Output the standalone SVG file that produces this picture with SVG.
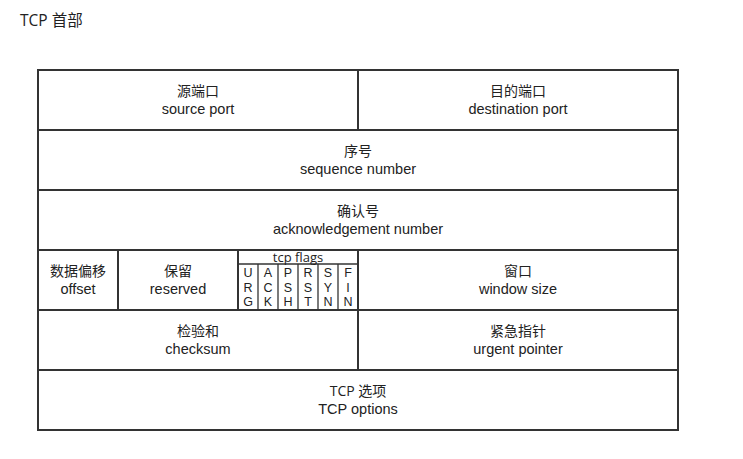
<svg xmlns="http://www.w3.org/2000/svg" width="743" height="459" viewBox="0 0 743 459">
<style>
text{font-family:"Open Sans","Noto Sans CJK SC",sans-serif;font-size:14px;fill:#222;text-anchor:middle}
.e{font-family:"Liberation Sans",sans-serif;font-size:14.5px}
.t{font-size:15.5px;text-anchor:start}
.b{fill:none;stroke:#333;stroke-width:2}
.f{stroke:#333;stroke-width:1.3}
.fl{font-size:13px}
.fg{font-family:"Liberation Sans",sans-serif;font-size:12.5px}
</style>
<rect width="743" height="459" fill="#fff"/>
<text class="t" x="20" y="26">TCP 首部</text>
<g id="connectors">
<rect class="b" x="38" y="70" width="640" height="360"/>
<line class="b" x1="38" y1="130" x2="678" y2="130"/>
<line class="b" x1="38" y1="190" x2="678" y2="190"/>
<line class="b" x1="38" y1="250" x2="678" y2="250"/>
<line class="b" x1="38" y1="310" x2="678" y2="310"/>
<line class="b" x1="38" y1="370" x2="678" y2="370"/>
<line class="b" x1="358" y1="70" x2="358" y2="130"/>
<line class="b" x1="358" y1="250" x2="358" y2="370"/>
<line class="b" x1="118" y1="250" x2="118" y2="310"/>
<line class="b" x1="238" y1="250" x2="238" y2="310"/>
<line class="f" x1="238" y1="264" x2="358" y2="264"/>
<line class="f" x1="258" y1="264" x2="258" y2="310"/>
<line class="f" x1="278" y1="264" x2="278" y2="310"/>
<line class="f" x1="298" y1="264" x2="298" y2="310"/>
<line class="f" x1="318" y1="264" x2="318" y2="310"/>
<line class="f" x1="338" y1="264" x2="338" y2="310"/>
</g>
<g id="src"><text x="198" y="96">源端口</text><text class="e" x="198" y="113.5">source port</text></g>
<g id="dst"><text x="518" y="96">目的端口</text><text class="e" x="518" y="113.5">destination port</text></g>
<g id="seq"><text x="358" y="156">序号</text><text class="e" x="358" y="173.5">sequence number</text></g>
<g id="ack"><text x="358" y="216">确认号</text><text class="e" x="358" y="233.5">acknowledgement number</text></g>
<g id="offset"><text x="78" y="276">数据偏移</text><text class="e" x="78" y="293.5">offset</text></g>
<g id="reserved"><text x="178" y="276">保留</text><text class="e" x="178" y="293.5">reserved</text></g>
<g id="flags"><text x="298" y="262" class="fl">tcp flags</text>
<text class="fg" x="248" y="277"><tspan x="248">U</tspan><tspan x="248" dy="14.5">R</tspan><tspan x="248" dy="14.5">G</tspan></text>
<text class="fg" x="268" y="277"><tspan x="268">A</tspan><tspan x="268" dy="14.5">C</tspan><tspan x="268" dy="14.5">K</tspan></text>
<text class="fg" x="288" y="277"><tspan x="288">P</tspan><tspan x="288" dy="14.5">S</tspan><tspan x="288" dy="14.5">H</tspan></text>
<text class="fg" x="308" y="277"><tspan x="308">R</tspan><tspan x="308" dy="14.5">S</tspan><tspan x="308" dy="14.5">T</tspan></text>
<text class="fg" x="328" y="277"><tspan x="328">S</tspan><tspan x="328" dy="14.5">Y</tspan><tspan x="328" dy="14.5">N</tspan></text>
<text class="fg" x="348" y="277"><tspan x="348">F</tspan><tspan x="348" dy="14.5">I</tspan><tspan x="348" dy="14.5">N</tspan></text>
</g>
<g id="window"><text x="518" y="276">窗口</text><text class="e" x="518" y="293.5">window size</text></g>
<g id="checksum"><text x="198" y="336">检验和</text><text class="e" x="198" y="353.5">checksum</text></g>
<g id="urgent"><text x="518" y="336">紧急指针</text><text class="e" x="518" y="353.5">urgent pointer</text></g>
<g id="options"><text x="358" y="396">TCP 选项</text><text class="e" x="358" y="413.5">TCP options</text></g>
</svg>
